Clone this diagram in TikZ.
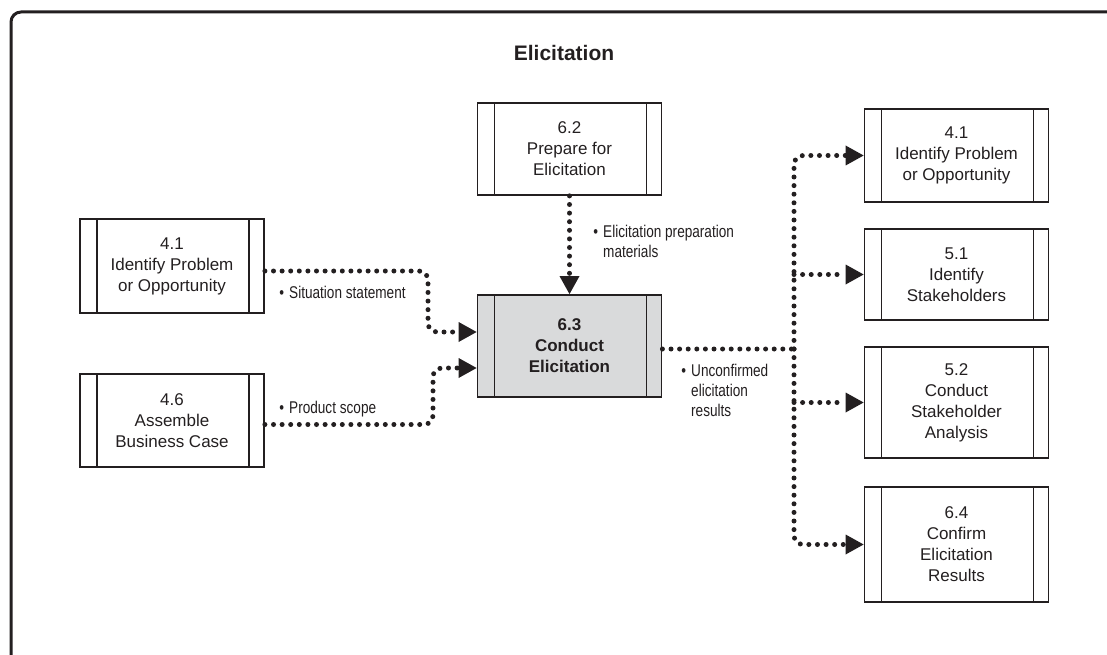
\documentclass[tikz,border=0pt]{standalone}
\usepackage{fontspec}
\setmainfont{Liberation Sans}
\newfontfamily\narrowfont[FakeStretch=0.8]{Liberation Sans}
\usetikzlibrary{arrows.meta}
\definecolor{ink}{HTML}{231F20}
\definecolor{taskgray}{HTML}{D9DADB}

\begin{document}
\begin{tikzpicture}[x=1pt,y=-1pt,
    task/.style={draw=ink, line width=1.8pt, minimum width=184pt, inner sep=0pt, align=center, text=ink,
        font=\fontsize{17}{21}\selectfont,
        path picture={
            \draw[ink, line width=1.4pt] ([xshift=17pt]path picture bounding box.north west) -- ([xshift=17pt]path picture bounding box.south west);
            \draw[ink, line width=1.4pt] ([xshift=-15pt]path picture bounding box.north east) -- ([xshift=-15pt]path picture bounding box.south east);
        }},
    flow/.style={draw=ink, line width=5pt, line cap=round, dash pattern=on 0pt off 8.6pt, rounded corners=9pt,
        -{Triangle[length=18pt,width=20pt,line width=0pt]}},
    lbl/.style={text=ink, font=\narrowfont\fontsize{17}{20}\selectfont, align=left, inner sep=0pt, anchor=north west}
]
\useasboundingbox (0,0) rectangle (1107,655);
\draw[ink, line width=3pt, rounded corners=10pt] (11,12) rectangle (1125,668);

\node[text=ink, font=\bfseries\fontsize{21}{24}\selectfont] (title) at (564,53) {Elicitation};

% taken
\node[task, minimum height=92pt] (prep) at (569.5,149) {6.2\\Prepare for\\Elicitation};
\node[task, minimum height=102pt, fill=taskgray, font=\bfseries\fontsize{17}{21}\selectfont] (conduct) at (569.5,346) {6.3\\Conduct\\Elicitation};
\node[task, minimum height=94pt] (ipo) at (172,266) {4.1\\Identify Problem\\or Opportunity};
\node[task, minimum height=93pt] (abc) at (172,420.5) {4.6\\Assemble\\Business Case};
\node[task, minimum height=93pt] (ipoR) at (956.5,155.5) {4.1\\Identify Problem\\or Opportunity};
\node[task, minimum height=91pt] (stake) at (956.5,274.5) {5.1\\Identify\\Stakeholders};
\node[task, minimum height=111pt] (analysis) at (956.5,402.5) {5.2\\Conduct\\Stakeholder\\Analysis};
\node[task, minimum height=115pt] (confirm) at (956.5,544.5) {6.4\\Confirm\\Elicitation\\Results};

% knikpunten
\coordinate (ipobend) at (428,332);
\coordinate (abcbend) at (433,368);
\coordinate (split) at (794,349);

% invoer
\draw[flow] (prep) -- (conduct);
\draw[flow] ([yshift=-5pt]ipo.east) -| (ipobend) -- (ipobend -| conduct.west);
\draw[flow] ([yshift=-4pt]abc.east) -| (abcbend) -- (abcbend -| conduct.west);

% uitvoer
\draw[flow, -] ([yshift=-3pt]conduct.east) -- (split);
\draw[flow] (split) |- (ipoR.west);
\draw[flow] (split |- stake.west) -- (stake.west);
\draw[flow] (split |- analysis.west) -- (analysis.west);
\draw[flow] (split) |- (confirm.west);

\node[lbl] (prepl) at (603,225) {\llap{\textbullet\hspace{5pt}}Elicitation preparation\\materials};
\node[lbl] (sitl) at (289,286) {\llap{\textbullet\hspace{5pt}}Situation statement};
\node[lbl] (prodl) at (289,401) {\llap{\textbullet\hspace{5pt}}Product scope};
\node[lbl] (unconfl) at (691,364) {\llap{\textbullet\hspace{5pt}}Unconfirmed\\elicitation\\results};
\end{tikzpicture}
\end{document}
